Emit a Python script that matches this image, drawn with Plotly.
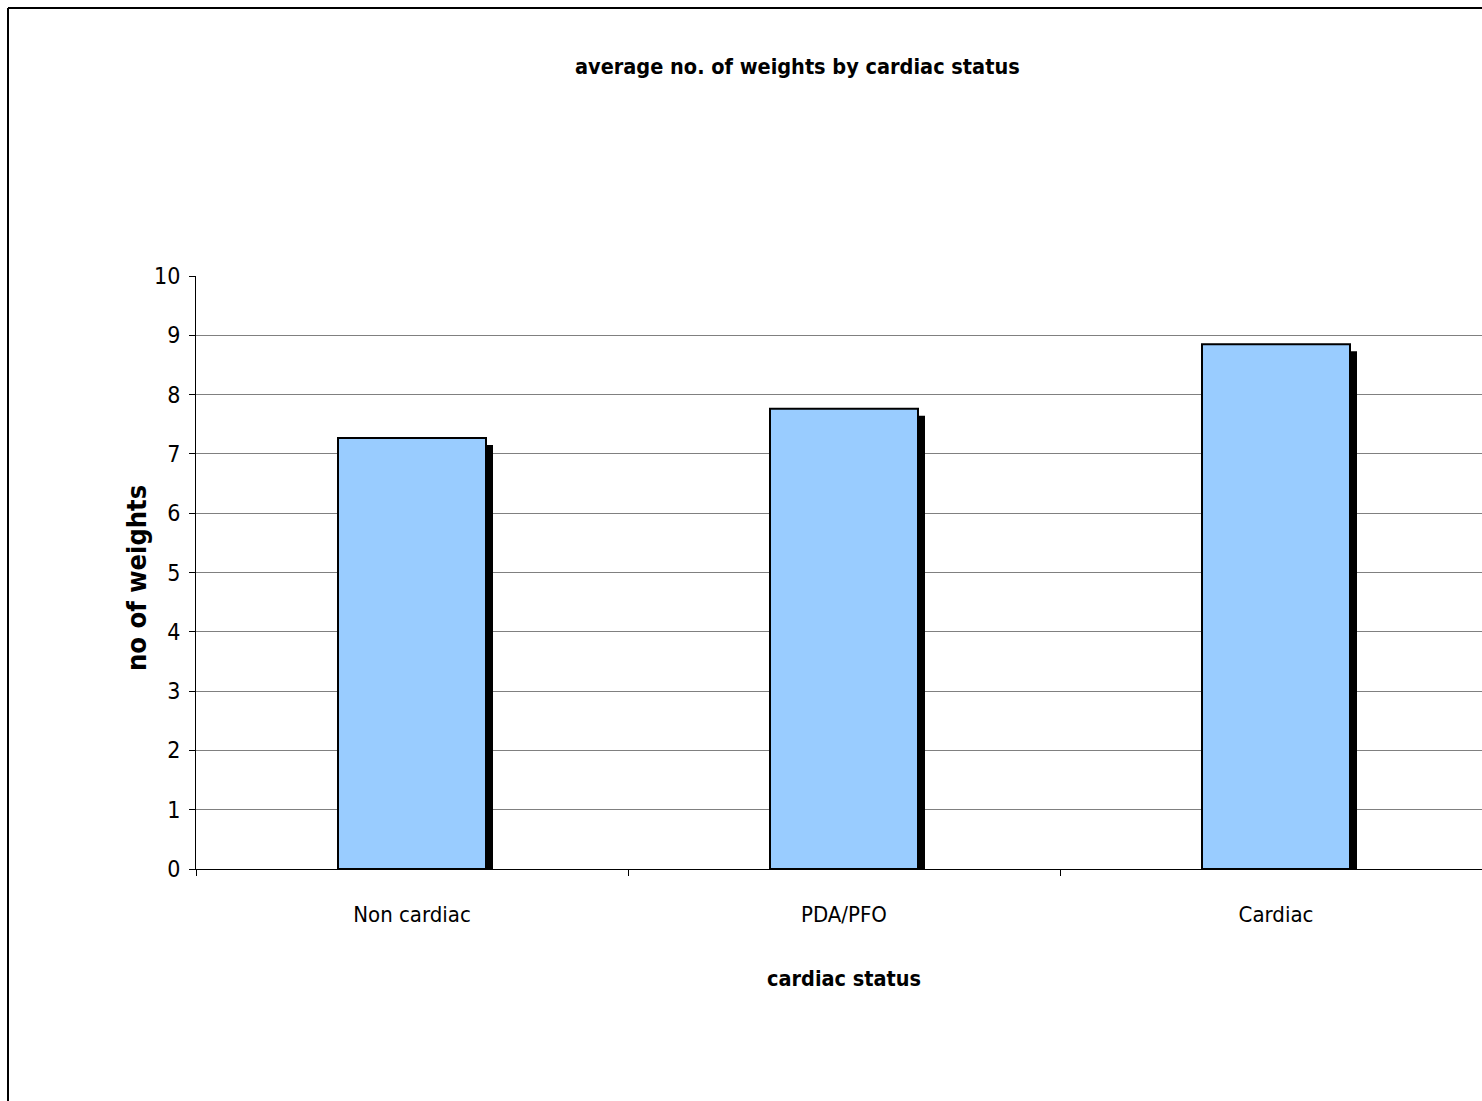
import plotly.graph_objects as go

categories = ["Non cardiac", "PDA/PFO", "Cardiac"]
values = [7.27, 7.76, 8.85]
y_ticks = list(range(0, 11))
grid_vals = list(range(1, 10))

W, H = 1482, 1101
L, R_PX, T, B_PX = 196, 1482, 276, 869  # plot area pixel box
pw, ph = R_PX - L, B_PX - T
cat_px = 432.0
x_range = [-0.5, -0.5 + pw / cat_px]

def px_x(x):
    return (x - L) / pw

def px_y(y):
    return (B_PX - y) / ph

bar_w = 148 / cat_px
sh_dx = 7 / cat_px
sh_dy = 7 * 10 / ph

FONT = "DejaVu Sans Condensed, Liberation Sans, Arial, sans-serif"

fig = go.Figure()
fig.add_trace(go.Bar(
    x=categories, y=[v - sh_dy for v in values],
    width=bar_w, offset=-bar_w / 2 + sh_dx,
    marker=dict(color="#000000", line=dict(width=0)),
    hoverinfo="skip", showlegend=False,
))
fig.add_trace(go.Bar(
    x=categories, y=values,
    width=bar_w, offset=-bar_w / 2,
    marker=dict(color="#99CCFF", line=dict(color="#000000", width=2)),
    showlegend=False,
))

fig.update_layout(
    width=W, height=H,
    margin=dict(l=L, r=W - R_PX, t=T, b=H - B_PX, pad=0),
    paper_bgcolor="white", plot_bgcolor="white",
    barmode="overlay",
    font=dict(family=FONT, color="#000000", size=20),
    xaxis=dict(
        type="category", range=x_range, tickson="boundaries",
        ticks="outside", ticklen=6, tickcolor="#000000", tickwidth=1,
        showline=True, linecolor="#000000", linewidth=1,
        showgrid=False, zeroline=False,
        tickfont=dict(family=FONT, size=22),
        ticklabelstandoff=26,
    ),
    yaxis=dict(
        range=[0, 10], tickvals=y_ticks,
        ticks="outside", ticklen=6, tickcolor="#000000", tickwidth=1,
        showline=True, linecolor="#000000", linewidth=1,
        showgrid=False, zeroline=False,
        tickfont=dict(family=FONT, size=23),
        ticklabelstandoff=4,
    ),
    yaxis2=dict(
        overlaying="y", range=[0, 10], tickvals=grid_vals,
        showgrid=True, gridcolor="#808080", gridwidth=1,
        showticklabels=False, ticks="", showline=False, zeroline=False,
    ),
    shapes=[
        dict(type="line", xref="paper", yref="paper",
             x0=px_x(8), x1=px_x(8), y0=px_y(8), y1=px_y(1110),
             line=dict(color="#000000", width=2)),
        dict(type="line", xref="paper", yref="paper",
             x0=px_x(8), x1=px_x(1500), y0=px_y(8), y1=px_y(8),
             line=dict(color="#000000", width=2)),
    ],
    annotations=[
        dict(text="<b>average no. of weights by cardiac status</b>",
             xref="paper", yref="paper", x=px_x(797), y=px_y(67),
             xanchor="center", yanchor="middle", showarrow=False,
             font=dict(family=FONT, size=21.5)),
        dict(text="<b>cardiac status</b>",
             xref="paper", yref="paper", x=px_x(844), y=px_y(978),
             xanchor="center", yanchor="middle", showarrow=False,
             font=dict(family=FONT, size=21.5)),
        dict(text="<b>no of weights</b>",
             xref="paper", yref="paper", x=px_x(136), y=px_y(578),
             xanchor="center", yanchor="middle", showarrow=False, textangle=-90,
             font=dict(family=FONT, size=27)),
    ],
)
# invisible trace so yaxis2 (gridlines at 1..9) renders
fig.add_trace(go.Scatter(x=[categories[0]], y=[0], yaxis="y2", mode="markers",
                         marker=dict(opacity=0), hoverinfo="skip", showlegend=False))

fig.write_html("out.html")
